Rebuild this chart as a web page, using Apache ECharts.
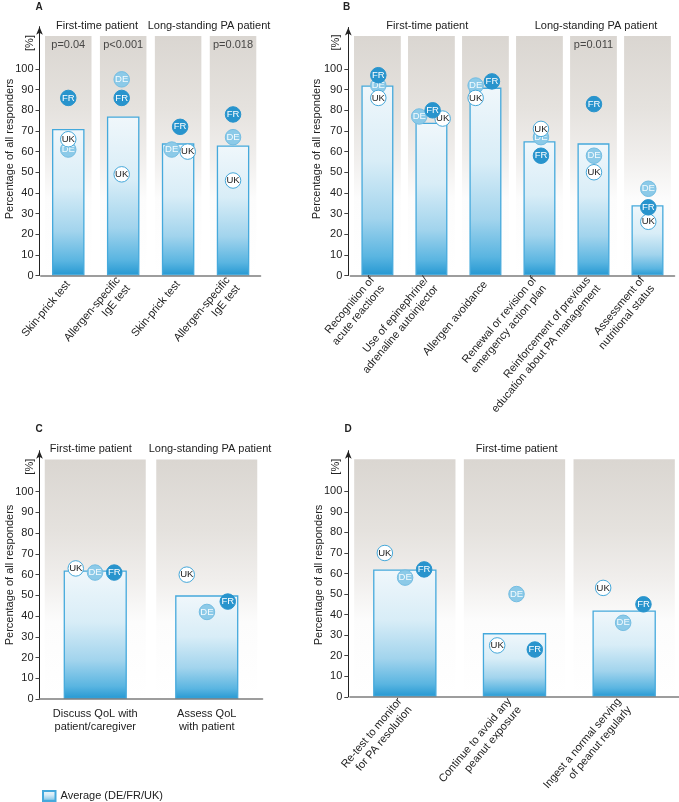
<!DOCTYPE html>
<html><head><meta charset="utf-8">
<script src="https://cdn.jsdelivr.net/npm/echarts@6/dist/echarts.min.js"></script>
<style>html,body{margin:0;padding:0;background:#fff}#c{width:679px;height:802px}</style>
</head><body><div id="c"></div>
<script>
// ---------------- DATA ----------------
const catsA = ['Skin-prick test', 'Allergen-specific\nIgE test', 'Skin-prick test', 'Allergen-specific\nIgE test'];
const avgA = [71, 77, 64, 63];
const frA  = [86, 86, 72, 78];
const deA  = [61, 95, 61, 67];
const ukA  = [66, 49, 60, 46];
const pA   = ['p=0.04', 'p<0.001', '', 'p=0.018'];

const catsB = ['Recognition of\nacute reactions', 'Use of epinephrine/\nadrenaline autoinjector', 'Allergen avoidance',
               'Renewal or revision of\nemergency action plan', 'Reinforcement of previous\neducation about PA management',
               'Assessment of\nnutritional status'];
const avgB = [92, 74, 91, 65, 64, 34];
const frB  = [97, 80, 94, 58, 83, 33];
const deB  = [92, 77, 92, 67, 58, 42];
const ukB  = [86, 76, 86, 71, 50, 26];
const pB   = ['', '', '', '', 'p=0.011', ''];

const catsC = ['Discuss QoL with\npatient/caregiver', 'Assess QoL\nwith patient'];
const avgC = [62, 50];
const frC  = [61, 47];
const deC  = [61, 42];
const ukC  = [63, 60];

const catsD = ['Re-test to monitor\nfor PA resolution', 'Continue to avoid any\npeanut exposure', 'Ingest a normal serving\nof peanut regularly'];
const avgD = [62, 31, 42];
const frD  = [62, 23, 45];
const deD  = [58, 50, 36];
const ukD  = [70, 25, 53];

const yTicks = [0, 10, 20, 30, 40, 50, 60, 70, 80, 90, 100];
const avgName = 'Average (DE/FR/UK)';

// ---------------- LAYOUT (pixel nudges, styles) ----------------
const FONT = '"Liberation Sans", Arial, Helvetica, sans-serif';
const panels = [
  { cats: catsA, avg: avgA, fr: frA, de: deA, uk: ukA, p: pA,
    grid: {left: 40.8, top: 26.7, width: 219.7, height: 248.8}, max: 120.5, yOff: 1.3,
    barW: 32.5, bgW: 46.5, bgTop: 116, pY: 111.6, rotate: 50, margin: 7,
    jit: { fr: [0, -1.5, 2, 0], de: [0, -1.5, -6.4, 0], uk: [0, -1.5, 9.6, 0] } },
  { cats: catsB, avg: avgB, fr: frB, de: deB, uk: ukB, p: pB,
    grid: {left: 350.4, top: 27.5, width: 324.1, height: 248}, max: 120.1, yOff: 2.1,
    barW: 32, bgW: 46.8, bgTop: 116, pY: 111.6, rotate: 50, margin: 7,
    jit: { fr: [0.9, 1.2, 6.5, 1.5, 0.5, 0.8], de: [0.9, -12.2, -9.8, 1.5, 0.5, 0.8], uk: [0.9, 11.2, -9.8, 1.5, 0.5, 0.8] } },
  { cats: catsC, avg: avgC, fr: frC, de: deC, uk: ukC, p: null,
    grid: {left: 39.5, top: 450.7, width: 223, height: 248.3}, max: 119.8, yOff: 0,
    barW: 63.2, bgW: 101, bgTop: 115.6, pY: 0, rotate: 0, margin: 8.5,
    jit: { fr: [19, 21], de: [-0.2, 0.2], uk: [-19.5, -20] } },
  { cats: catsD, avg: avgD, fr: frD, de: deD, uk: ukD, p: null,
    grid: {left: 350, top: 450.7, width: 330, height: 248.3}, max: 119.8, yOff: 1.7,
    barW: 63.4, bgW: 101.3, bgTop: 115.6, pY: 0, rotate: 50, margin: 7,
    jit: { fr: [19.3, 20.3, 19.3], de: [0.3, 2, -1], uk: [-20, -17.3, -21] } }
];

const dotStyle = {
  DE: { fill: '#8ccae8', border: '#74bde2', text: '#f4fbfe' },
  UK: { fill: '#ffffff', border: '#45a8da', text: '#1a1a1a' },
  FR: { fill: '#2894cd', border: '#2894cd', text: '#ffffff' }
};

const barGrad = new echarts.graphic.LinearGradient(0, 0, 0, 1, [
  {offset: 0, color: '#f0f7fb'}, {offset: 0.4, color: '#d8edf7'},
  {offset: 0.7, color: '#a2d4ed'}, {offset: 0.9, color: '#5ab5e1'}, {offset: 1, color: '#2598d2'}
]);
const bgGrad = new echarts.graphic.LinearGradient(0, 0, 0, 1, [
  {offset: 0, color: '#dad6d1'}, {offset: 0.3, color: '#e5e2de'},
  {offset: 0.5, color: '#f0eeec'}, {offset: 0.68, color: '#fcfcfc'}, {offset: 1, color: '#ffffff'}
]);

const grids = [], xAxes = [], yAxes = [], series = [];
panels.forEach((P, g) => {
  grids.push(P.grid);
  const mainX = xAxes.length;
  xAxes.push({
    gridIndex: g, type: 'category', data: P.cats, z: 8,
    axisLine: {lineStyle: {color: '#7d7d7d', width: 1.6}},
    axisTick: {show: false},
    axisLabel: {interval: 0, rotate: P.rotate, margin: P.margin, fontSize: 11, color: '#222',
                fontFamily: FONT, lineHeight: 13}
  });
  const bgX = xAxes.length;
  xAxes.push({gridIndex: g, type: 'category', data: P.cats, show: false});
  yAxes.push({
    gridIndex: g, type: 'value', min: 0, max: P.max, offset: P.yOff, z: 8,
    axisLine: {show: true, symbol: ['none', 'arrow'], symbolSize: [5, 8], lineStyle: {color: '#222', width: 1}},
    axisTick: {show: true, length: 4, customValues: yTicks, lineStyle: {color: '#444'}},
    axisLabel: {customValues: yTicks, margin: 6, fontSize: 11, color: '#222', fontFamily: FONT},
    splitLine: {show: false}
  });
  // grey background columns
  series.push({
    type: 'bar', xAxisIndex: bgX, yAxisIndex: g, barWidth: P.bgW, silent: true, z: 1,
    data: P.cats.map(() => P.bgTop), itemStyle: {color: bgGrad}
  });
  // average bars
  series.push({
    name: avgName, type: 'bar', xAxisIndex: mainX, yAxisIndex: g, barWidth: P.barW, z: 2,
    data: P.avg, itemStyle: {color: barGrad, borderColor: '#45a9dc', borderWidth: 1.3}
  });
  // country dots
  [['DE', P.de], ['UK', P.uk], ['FR', P.fr]].forEach(([c, vals], k) => {
    const st = dotStyle[c];
    series.push({
      name: c, type: 'scatter', xAxisIndex: mainX, yAxisIndex: g, z: 3 + k,
      symbol: 'circle', symbolSize: 15.5,
      data: vals.map((v, i) => ({value: [i, v], symbolOffset: [P.jit[c.toLowerCase()][i], 0]})),
      itemStyle: {color: st.fill, borderColor: st.border, borderWidth: 1, opacity: 1},
      label: {show: true, position: 'inside', formatter: c, fontSize: 9.5, color: st.text, fontFamily: FONT}
    });
  });
  // p-values
  if (P.p) {
    series.push({
      type: 'scatter', xAxisIndex: mainX, yAxisIndex: g, z: 6, symbolSize: 0, silent: true,
      data: P.p.map((t, i) => t ? {name: t, value: [i, P.pY]} : null).filter(d => d),
      label: {show: true, position: 'inside', formatter: '{b}', fontSize: 11, color: '#222', fontFamily: FONT}
    });
  }
});

function txt(x, y, text, opt) {
  opt = opt || {};
  return {
    type: 'text', x: x, y: y, rotation: opt.rot || 0, z: 10,
    style: {
      text: text, fill: opt.color || '#222', font: (opt.weight || 'normal') + ' ' + (opt.size || 11) + 'px ' + FONT,
      align: 'center', verticalAlign: 'middle', textAlign: 'center', textVerticalAlign: 'middle'
    }
  };
}
const R = Math.PI / 2;
const graphics = [
  txt(39, 7, 'A', {weight: 'bold', size: 10}),
  txt(346.5, 7, 'B', {weight: 'bold', size: 10}),
  txt(39, 429, 'C', {weight: 'bold', size: 10}),
  txt(348, 429, 'D', {weight: 'bold', size: 10}),
  txt(30, 43, '[%]', {rot: R}),
  txt(335.7, 42.5, '[%]', {rot: R}),
  txt(30, 466.7, '[%]', {rot: R}),
  txt(336, 466.7, '[%]', {rot: R}),
  txt(10, 149, 'Percentage of all responders', {rot: R}),
  txt(317, 149, 'Percentage of all responders', {rot: R}),
  txt(10, 575, 'Percentage of all responders', {rot: R}),
  txt(319, 575, 'Percentage of all responders', {rot: R}),
  txt(97, 25.7, 'First-time patient', {size: 11}),
  txt(209, 25.7, 'Long-standing PA patient', {size: 11}),
  txt(427.3, 25.7, 'First-time patient', {size: 11}),
  txt(596, 25.7, 'Long-standing PA patient', {size: 11}),
  txt(90.8, 449.3, 'First-time patient', {size: 11}),
  txt(210, 449.3, 'Long-standing PA patient', {size: 11}),
  txt(516.7, 449.3, 'First-time patient', {size: 11})
];

const chart = echarts.init(document.getElementById('c'), null, {renderer: 'canvas'});
chart.setOption({
  animation: false,
  backgroundColor: '#ffffff',
  textStyle: {fontFamily: FONT},
  grid: grids, xAxis: xAxes, yAxis: yAxes, series: series,
  legend: {
    data: [avgName], left: 37, top: 785, icon: 'rect', itemWidth: 12.5, itemHeight: 10, itemGap: 4,
    selectedMode: false, textStyle: {fontSize: 11, color: '#222', fontFamily: FONT}
  },
  graphic: graphics
});
</script></body></html>
